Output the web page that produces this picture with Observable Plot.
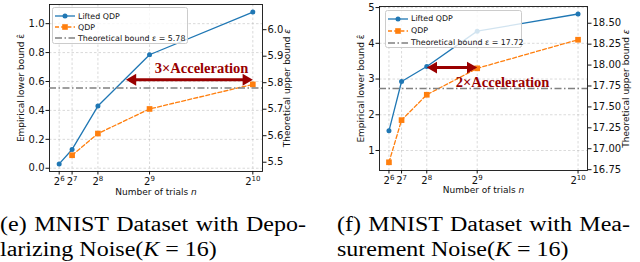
<!DOCTYPE html>
<html><head><meta charset="utf-8">
<script src="https://cdn.jsdelivr.net/npm/d3@7"></script>
<script src="https://cdn.jsdelivr.net/npm/@observablehq/plot@0.6"></script>
<style>
html,body{margin:0;padding:0;background:#fff;}
#wrap{position:relative;width:640px;height:262px;overflow:hidden;background:#fff;}
.layer{position:absolute;top:0;}
.layer svg{display:block;overflow:visible;}
.legend{position:absolute;background:rgba(255,255,255,0.8);border:1px solid #cccccc;border-radius:2.5px;font-family:"DejaVu Sans";font-size:7.9px;color:#111;box-sizing:border-box;padding-left:2px;}
.legend .row{display:flex;align-items:center;white-space:nowrap;}
.legend svg{display:block;margin-right:3px;flex:none;}
.cap{position:absolute;top:211.5px;font-family:"Liberation Serif";font-size:20px;line-height:25.5px;color:#000;transform-origin:0 0;white-space:nowrap;}
.cap .l1{text-align:justify;text-align-last:justify;}
.cap i{font-style:italic;}
</style></head>
<body><div id="wrap"></div>
<script>
// ---------- data ----------
const xTickValues = [64, 128, 256, 512, 1024];

// (e) depolarizing noise
const depolLiftedN = [64, 128, 256, 512, 1024];
const depolLifted = [0.03, 0.13, 0.43, 0.785, 1.08];
const depolQdpN = [128, 256, 512, 1024];
const depolQdp = [0.09, 0.24, 0.41, 0.58];
const depolBound = 5.78;
const depolLeftTicks = [0, 0.2, 0.4, 0.6, 0.8, 1.0];
const depolRightTicks = [5.5, 5.6, 5.7, 5.8, 5.9, 6.0];
const depolArrow = [{x1: 395, x2: 1024, y: 0.612, label: "3×Acceleration", lx: 770, ly: 0.69}];

// (f) measurement noise
const measLiftedN = [64, 128, 256, 512, 1024];
const measLifted = [1.55, 2.93, 3.35, 4.34, 4.82];
const measQdpN = [64, 128, 256, 512, 1024];
const measQdp = [0.67, 1.85, 2.56, 3.30, 4.10];
const measBound = 17.72;
const measLeftTicks = [1, 2, 3, 4, 5];
const measRightTicks = [16.75, 17.0, 17.25, 17.5, 17.75, 18.0, 18.25, 18.5];
const measArrow = [{x1: 256, x2: 512, y: 3.32, label: "2×Acceleration", lx: 641, ly: 2.92}];

const blue = "#1f77b4", orange = "#ff7f0e", red = "#990000", gray = "#808080";
const powFmt = d => "2^" + Math.round(Math.log2(d));

const wrap = document.getElementById("wrap");
const NS = "http://www.w3.org/2000/svg";

function italicize(svg, full, nTail) {
  svg.querySelectorAll("text").forEach(t => {
    if (t.textContent === full) {
      const head = full.slice(0, full.length - nTail), tail = full.slice(full.length - nTail);
      t.textContent = head;
      const ts = document.createElementNS(NS, "tspan");
      ts.setAttribute("font-style", "italic");
      ts.textContent = tail;
      t.appendChild(ts);
    }
  });
}
function styleLabels(svg) {
  svg.querySelectorAll('g[aria-label$="axis label"]').forEach(g => g.setAttribute("font-size", "9"));
}
function superscripts(svg) {
  svg.querySelectorAll('g[aria-label="x-axis tick label"] text').forEach(t => {
    const [base, exp] = t.textContent.split("^");
    if (exp === undefined) return;
    t.textContent = base;
    const ts = document.createElementNS(NS, "tspan");
    ts.setAttribute("font-size", "7");
    ts.setAttribute("dy", "-4");
    ts.textContent = exp;
    t.appendChild(ts);
  });
}

function panel(o) {
  const lifted = o.liftedN.map((n, i) => ({n, v: o.lifted[i]}));
  const qdp = o.qdpN.map((n, i) => ({n, v: o.qdp[i]}));
  const common = {
    width: 320, height: 200,
    marginLeft: o.mL, marginRight: o.mR, marginTop: o.mT, marginBottom: o.mB,
    x: {type: "linear", domain: [16, 1072]},
  };
  const main = Plot.plot({
    ...common,
    y: {domain: o.yDomain},
    style: {fontFamily: "DejaVu Sans", fontSize: "10px", color: "#111", background: "transparent"},
    marks: [
      Plot.gridX(xTickValues, {stroke: "#b0b0b0", strokeOpacity: 0.6, strokeWidth: 0.8, strokeDasharray: "2.5,2"}),
      Plot.gridY(o.leftTicks, {stroke: "#b0b0b0", strokeOpacity: 0.6, strokeWidth: 0.8, strokeDasharray: "2.5,2"}),
      Plot.axisX(xTickValues, {tickSize: 3.5, tickPadding: 2.5, tickFormat: powFmt, label: "Number of trials n",
        labelAnchor: "center", labelArrow: "none", labelOffset: o.xLabelOffset}),
      Plot.axisY(o.leftTicks, {anchor: "left", tickSize: 3.5, tickPadding: 1.5, tickFormat: o.leftFmt,
        label: "Empirical lower bound ε̂", labelAnchor: "center", labelArrow: "none", labelOffset: o.leftLabelOffset}),
      Plot.line(lifted, {x: "n", y: "v", stroke: blue, strokeWidth: 1.3}),
      Plot.dot(lifted, {x: "n", y: "v", fill: blue, r: 2.5}),
      Plot.line(qdp, {x: "n", y: "v", stroke: orange, strokeWidth: 1.3, strokeDasharray: "4,2.2"}),
      Plot.dot(qdp, {x: "n", y: "v", fill: orange, symbol: "square", r: 3.2}),
      Plot.frame({stroke: "#111", strokeWidth: 0.9}),
      Plot.arrow(o.arrow, {x1: "x1", x2: "x2", y1: "y", y2: "y", stroke: red, strokeWidth: 3, headLength: 0, insetStart: 6, insetEnd: 6}),
      Plot.dot(o.arrow, {x: "x2", y: "y", symbol: "triangle", r: 4.4, rotate: 90, fill: red, dx: -6.8}),
      Plot.dot(o.arrow, {x: "x1", y: "y", symbol: "triangle", r: 4.4, rotate: -90, fill: red, dx: 6.8}),
      Plot.text(o.arrow, {x: "lx", y: "ly", text: "label", fontFamily: "Liberation Serif", fontWeight: "bold", fontSize: 14.5, fill: red})
    ]
  });
  styleLabels(main);
  superscripts(main);
  italicize(main, "Number of trials n", 1);
  const over = Plot.plot({
    ...common,
    x: {type: "linear", domain: [16, 1072], axis: null},
    y: {domain: o.y2Domain},
    style: {fontFamily: "DejaVu Sans", fontSize: "10px", color: "#111", background: "transparent"},
    marks: [
      Plot.ruleY([o.bound], {stroke: gray, strokeWidth: 1.3, strokeDasharray: "7,2.5,1.5,2.5"}),
      Plot.axisY(o.rightTicks, {anchor: "right", tickSize: 3.5, tickPadding: 1.5, tickFormat: o.rightFmt,
        label: "Theoretical upper bound ε", labelAnchor: "center", labelArrow: "none", labelOffset: o.rightLabelOffset})
    ]
  });
  styleLabels(over);
  italicize(over, "Theoretical upper bound ε", 1);
  for (const svg of [main, over]) {
    const d = document.createElement("div");
    d.className = "layer";
    d.style.left = o.left + "px";
    d.appendChild(svg);
    wrap.appendChild(d);
  }
}

function swatch(kind) {
  const s = document.createElementNS(NS, "svg");
  s.setAttribute("width", 20); s.setAttribute("height", 10);
  const line = document.createElementNS(NS, "line");
  line.setAttribute("x1", 0); line.setAttribute("x2", 20); line.setAttribute("y1", 5); line.setAttribute("y2", 5);
  line.setAttribute("stroke-width", 1.3);
  if (kind === "lifted") {
    line.setAttribute("stroke", blue);
    s.appendChild(line);
    const c = document.createElementNS(NS, "circle");
    c.setAttribute("cx", 10); c.setAttribute("cy", 5); c.setAttribute("r", 2.5); c.setAttribute("fill", blue);
    s.appendChild(c);
  } else if (kind === "qdp") {
    line.setAttribute("stroke", orange); line.setAttribute("stroke-dasharray", "4,2.2");
    s.appendChild(line);
    const r = document.createElementNS(NS, "rect");
    r.setAttribute("x", 7.2); r.setAttribute("y", 2.2); r.setAttribute("width", 5.6); r.setAttribute("height", 5.6); r.setAttribute("fill", orange);
    s.appendChild(r);
  } else {
    line.setAttribute("stroke", gray); line.setAttribute("stroke-dasharray", "7,2.5,1.5,2.5");
    s.appendChild(line);
  }
  return s;
}

function legend(left, top, width, height, padTop, rowH, bound) {
  const lg = document.createElement("div");
  lg.className = "legend";
  Object.assign(lg.style, {left: left + "px", top: top + "px", width: width + "px", height: height + "px", paddingTop: padTop + "px"});
  const items = [["lifted", "Lifted QDP"], ["qdp", "QDP"], ["bound", "Theoretical bound ε = " + bound]];
  for (const [k, t] of items) {
    const row = document.createElement("div");
    row.className = "row";
    row.style.height = rowH + "px";
    row.appendChild(swatch(k));
    const sp = document.createElement("span");
    sp.textContent = t;
    row.appendChild(sp);
    lg.appendChild(row);
  }
  wrap.appendChild(lg);
}

panel({
  left: 0, mL: 49, mR: 58, mT: 4, mB: 29,
  yDomain: [-0.0225, 1.1325], y2Domain: [5.465, 6.095],
  liftedN: depolLiftedN, lifted: depolLifted, qdpN: depolQdpN, qdp: depolQdp, bound: depolBound,
  leftTicks: depolLeftTicks, leftFmt: d3.format(".1f"), rightTicks: depolRightTicks, rightFmt: d3.format(".1f"),
  arrow: depolArrow, leftLabelOffset: 32, rightLabelOffset: 27, xLabelOffset: 23
});
panel({
  left: 320, mL: 59, mR: 53, mT: 6, mB: 30,
  yDomain: [0.44, 5.03], y2Domain: [16.74, 18.70],
  liftedN: measLiftedN, lifted: measLifted, qdpN: measQdpN, qdp: measQdp, bound: measBound,
  leftTicks: measLeftTicks, leftFmt: d3.format("d"), rightTicks: measRightTicks, rightFmt: d3.format(".2f"),
  arrow: measArrow, leftLabelOffset: 22, rightLabelOffset: 41, xLabelOffset: 22
});
legend(52, 7, 136, 37, 2.5, 11, depolBound);
legend(385, 10, 137, 38, 1.5, 12, measBound);

// captions
function caption(left, width, scale, l1, l2html) {
  const c = document.createElement("div");
  c.className = "cap";
  c.style.left = left + "px";
  c.style.transform = `scaleX(${scale})`;
  const a = document.createElement("div");
  a.className = "l1"; a.style.width = (width / scale) + "px"; a.textContent = l1;
  const b = document.createElement("div");
  b.innerHTML = l2html;
  c.appendChild(a); c.appendChild(b);
  wrap.appendChild(c);
}
caption(0, 306, 1.2, "(e) MNIST Dataset with Depo-", "larizing Noise(<i>K</i> = 16)");
caption(337, 293, 1.2, "(f) MNIST Dataset with Mea-", "surement Noise(<i>K</i> = 16)");
</script>
</body></html>
